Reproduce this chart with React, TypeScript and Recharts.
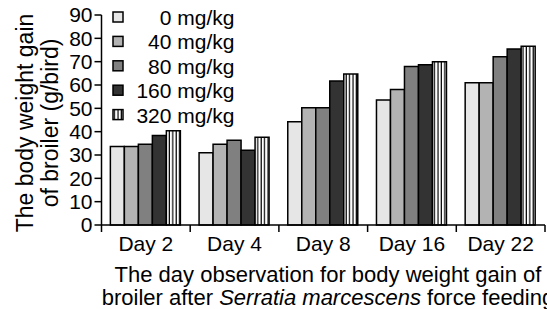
import React from "react";
import { BarChart, Bar, XAxis, YAxis } from "recharts";

const categories = ["Day 2", "Day 4", "Day 8", "Day 16", "Day 22"];
const s0 = [33.6, 31.0, 44.3, 53.6, 61.0];
const s40 = [33.6, 34.6, 50.3, 58.1, 61.0];
const s80 = [34.6, 36.3, 50.3, 67.9, 72.1];
const s160 = [38.4, 32.0, 61.7, 68.7, 75.4];
const s320 = [40.4, 37.6, 64.7, 70.0, 76.6];
const yTicks = [0, 10, 20, 30, 40, 50, 60, 70, 80, 90];
const seriesNames = ["0 mg/kg", "40 mg/kg", "80 mg/kg", "160 mg/kg", "320 mg/kg"];
const seriesKeys = ["s0", "s40", "s80", "s160", "s320"];
const seriesFills = ["#e6e6e6", "#b3b3b3", "#808080", "#333333", "url(#stripes)"];

const data = categories.map((c, i) => ({
  day: c,
  s0: s0[i],
  s40: s40[i],
  s80: s80[i],
  s160: s160[i],
  s320: s320[i],
}));

const W = 547;
const H = 309;
const PLOT_LEFT = 101.5;
const PLOT_RIGHT = 545;
const PLOT_TOP = 15;
const PLOT_BOTTOM = 225;
const FONT = "'Liberation Sans', Arial, sans-serif";
const BAND = (PLOT_RIGHT - PLOT_LEFT) / categories.length;

const XTick = (props: any) => {
  const { x, y, payload, index } = props;
  return (
    <g>
      <line x1={x - BAND / 2} x2={x - BAND / 2} y1={y} y2={y + 7} stroke="#000" strokeWidth={1.5} />
      {index === categories.length - 1 && (
        <line x1={x + BAND / 2} x2={x + BAND / 2} y1={y} y2={y + 7} stroke="#000" strokeWidth={1.5} />
      )}
      <text x={x} y={y + 25.5} textAnchor="middle" fontSize={21} fontFamily={FONT} fill="#000">
        {payload.value}
      </text>
    </g>
  );
};

const LegendGroup = () => (
  <g transform="translate(105,0)">
    {seriesNames.map((n, i) => {
      const cy = 17 + i * 24.4;
      return (
        <g key={n}>
          <rect x={8} y={cy - 5} width={10} height={10} fill={seriesFills[i]} stroke="#000" strokeWidth={1.5} />
          <text x={129.5} y={cy + 8} textAnchor="end" fontSize={21} fontFamily={FONT} fill="#000">
            {n}
          </text>
        </g>
      );
    })}
  </g>
);

export default function App() {
  return (
    <div style={{ position: "absolute", left: 0, top: 0, width: W, height: H, background: "#fff" }}>
      <BarChart
        width={W}
        height={H}
        data={data}
        margin={{ top: PLOT_TOP, right: W - PLOT_RIGHT, bottom: 0, left: 0 }}
        barCategoryGap="10%"
        barGap={0}
      >
        <defs>
          <pattern id="stripes" patternUnits="userSpaceOnUse" width={3.4} height={4}>
            <rect width={3.4} height={4} fill="#fff" />
            <rect x={2.2} width={1.2} height={4} fill="#000" />
          </pattern>
        </defs>
        <XAxis
          dataKey="day"
          height={H - PLOT_BOTTOM}
          tickLine={false}
          tickSize={0}
          tickMargin={0}
          axisLine={{ stroke: "#000", strokeWidth: 1.5 }}
          tick={<XTick />}
          interval={0}
        />
        <YAxis
          width={PLOT_LEFT}
          domain={[0, 90]}
          ticks={yTicks}
          interval={0}
          tickSize={7}
          tickMargin={2}
          axisLine={{ stroke: "#000", strokeWidth: 1.5 }}
          tickLine={{ stroke: "#000", strokeWidth: 1.5 }}
          tick={{ fontSize: 21, fontFamily: FONT, fill: "#000" }}
        />
        {seriesKeys.map((k, i) => (
          <Bar
            key={k}
            dataKey={k}
            name={seriesNames[i]}
            fill={seriesFills[i]}
            stroke="#000"
            strokeWidth={1.5}
            isAnimationActive={false}
          />
        ))}
        <LegendGroup />
        <text
          transform="translate(33,123) rotate(-90)"
          textAnchor="middle"
          fontSize={23}
          fontFamily={FONT}
          fill="#000"
        >
          The body weight gain
        </text>
        <text
          transform="translate(58,123) rotate(-90)"
          textAnchor="middle"
          fontSize={23}
          fontFamily={FONT}
          fill="#000"
        >
          of broiler (g/bird)
        </text>
        <text x={328} y={282} textAnchor="middle" fontSize={22} fontFamily={FONT} fill="#000">
          The day observation for body weight gain of
        </text>
        <text x={328} y={305} textAnchor="middle" fontSize={22} fontFamily={FONT} fill="#000">
          broiler after <tspan fontStyle="italic">Serratia marcescens</tspan> force feeding
        </text>
      </BarChart>
    </div>
  );
}
